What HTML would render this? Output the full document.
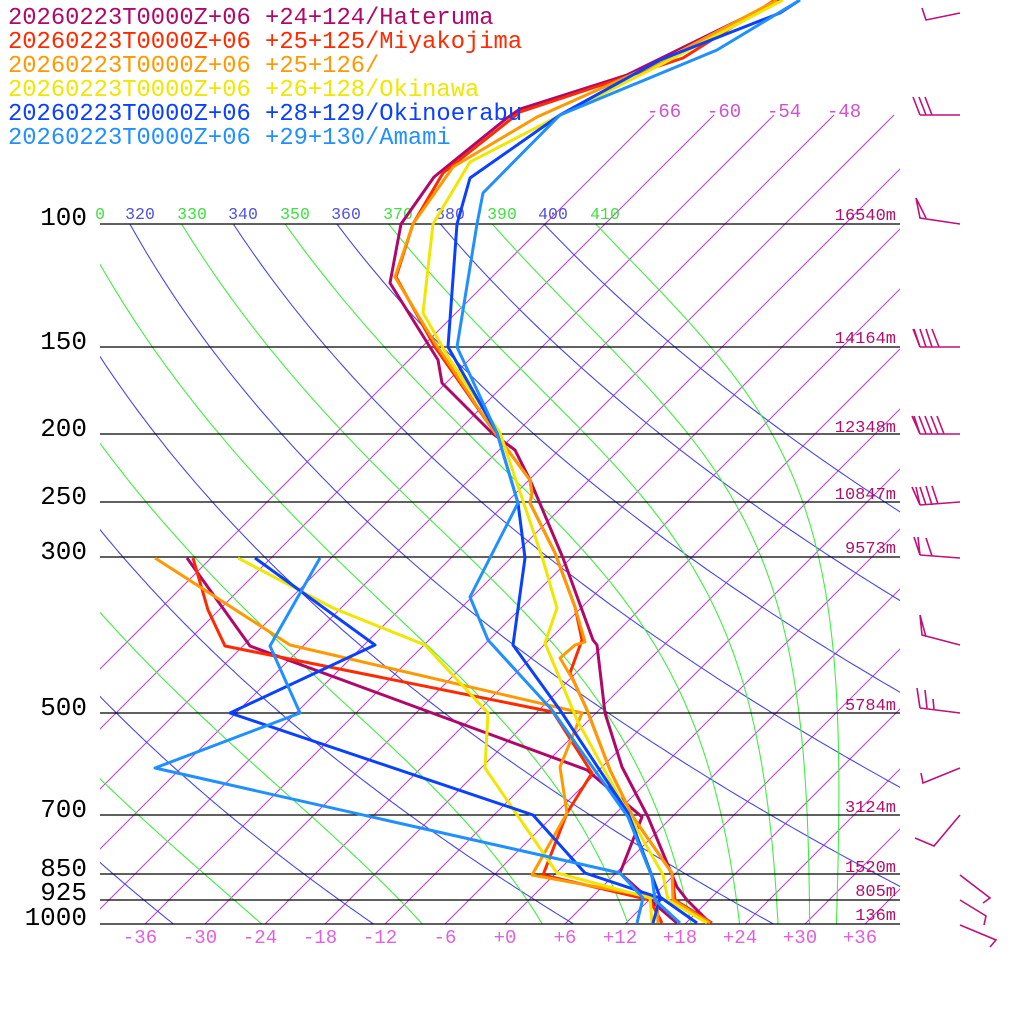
<!DOCTYPE html>
<html><head><meta charset="utf-8"><style>
html,body{margin:0;padding:0;background:#fff;}
svg{display:block;}
text{font-family:"Liberation Mono",monospace;}
</style></head><body>
<svg id="s" width="1024" height="1024" viewBox="0 0 1024 1024" xmlns="http://www.w3.org/2000/svg">
<defs><clipPath id="c"><rect x="100" y="0" width="800" height="924"/></clipPath></defs>
<g id="grid" clip-path="url(#c)"></g>
<g stroke="#000" stroke-width="1.3">
<line x1="100" y1="224" x2="900" y2="224"/><line x1="100" y1="347" x2="900" y2="347"/>
<line x1="100" y1="434" x2="900" y2="434"/><line x1="100" y1="502" x2="900" y2="502"/>
<line x1="100" y1="557" x2="900" y2="557"/><line x1="100" y1="713" x2="900" y2="713"/>
<line x1="100" y1="815" x2="900" y2="815"/><line x1="100" y1="874" x2="900" y2="874"/>
<line x1="100" y1="900" x2="900" y2="900"/><line x1="100" y1="924" x2="900" y2="924"/>
</g>
<g font-size="16.5" text-anchor="middle">
<text x="100" y="219" fill="#40e040" text-anchor="end" dx="5">0</text>
<text x="140" y="219" fill="#5050e0">320</text><text x="192" y="219" fill="#40e040">330</text>
<text x="243" y="219" fill="#5050e0">340</text><text x="295" y="219" fill="#40e040">350</text>
<text x="346" y="219" fill="#5050e0">360</text><text x="398" y="219" fill="#40e040">370</text>
<text x="450" y="219" fill="#5050e0">380</text><text x="502" y="219" fill="#40e040">390</text>
<text x="553" y="219" fill="#5050e0">400</text><text x="605" y="219" fill="#40e040">410</text>
</g>
<g font-size="19" fill="#d050d0">
<text x="647" y="117">-66</text><text x="707" y="117">-60</text><text x="767" y="117">-54</text><text x="827" y="117">-48</text>
</g>
<g font-size="19" fill="#e060e0" text-anchor="middle">
<text x="140" y="943">-36</text><text x="200" y="943">-30</text><text x="260" y="943">-24</text><text x="320" y="943">-18</text>
<text x="380" y="943">-12</text><text x="445" y="943">-6</text><text x="505" y="943">+0</text><text x="565" y="943">+6</text>
<text x="620" y="943">+12</text><text x="680" y="943">+18</text><text x="740" y="943">+24</text><text x="800" y="943">+30</text><text x="860" y="943">+36</text>
</g>
<g font-size="26" fill="#000" text-anchor="end">
<text x="87" y="225">100</text><text x="87" y="349">150</text><text x="87" y="436">200</text><text x="87" y="504">250</text>
<text x="87" y="559">300</text><text x="87" y="715">500</text><text x="87" y="817">700</text><text x="87" y="876">850</text>
<text x="87" y="900">925</text><text x="87" y="925">1000</text>
</g>
<g font-size="17" fill="#b0106a" text-anchor="end">
<text x="896" y="220">16540m</text><text x="896" y="343">14164m</text><text x="896" y="432">12348m</text>
<text x="896" y="499">10847m</text><text x="896" y="553">9573m</text><text x="896" y="710">5784m</text>
<text x="896" y="812">3124m</text><text x="896" y="872">1520m</text><text x="896" y="896">805m</text><text x="896" y="920">136m</text>
</g>
<g fill="none" stroke-width="3" stroke-linejoin="round">
<polyline stroke="#b0086a" points="780,0 627,75 520,109 507,118 434,177 401,224 390,283 438,360 442,383 492,433 515,450 530,480 563,558 593,640 597,645 605,713 622,767 648,817 677,887 687,900 710,923"/>
<polyline stroke="#b0086a" points="187,558 250,646 587,770 642,817 620,873 650,900 677,923"/>
<polyline stroke="#ff2a00" points="775,0 683,58 520,112 443,173 413,224 396,277 435,347 493,430 530,480 532,493 530,503 555,553 575,607 582,640 570,673 587,710 610,770 633,817 672,873 675,900 712,923"/>
<polyline stroke="#ff2a00" points="193,558 208,610 225,646 553,712 592,773 567,813 543,875 650,900 662,923"/>
<polyline stroke="#ff9900" points="777,0 660,62 537,117 453,167 413,224 395,277 433,340 493,430 530,480 532,493 530,503 555,553 575,607 585,642 575,645 560,658 573,680 587,710 610,770 633,817 672,873 673,900 710,923"/>
<polyline stroke="#ff9900" points="155,558 290,645 582,713 560,767 567,813 532,875 657,898 658,923"/>
<polyline stroke="#f0e600" points="783,0 660,65 557,117 470,162 433,224 423,313 450,360 500,433 543,560 557,608 545,643 577,720 628,813 663,875 668,900 707,923"/>
<polyline stroke="#f0e600" points="238,558 333,608 425,645 488,713 485,768 557,873 650,898 652,923"/>
<polyline stroke="#0a40ff" points="800,0 780,13 660,60 560,115 470,178 457,224 448,347 497,433 518,503 525,558 513,645 560,710 628,813 660,897 697,923"/>
<polyline stroke="#0a40ff" points="255,558 375,645 230,713 533,815 585,873 660,898 653,923"/>
<polyline stroke="#2090ff" points="800,0 717,50 560,115 483,193 477,224 457,347 497,433 518,503 470,597 488,640 552,710 628,817 652,877 655,900 680,923"/>
<polyline stroke="#2090ff" points="320,558 270,646 300,713 155,768 620,873 643,898 637,923"/>
</g>
<g stroke="#c0107a" stroke-width="1.6" fill="none">
<polyline points="922,8 926,20 960,13"/>
<line x1="920" y1="115" x2="960" y2="115"/><line x1="920" y1="115" x2="913" y2="97"/><line x1="926" y1="115" x2="919" y2="97"/><line x1="932" y1="115" x2="925" y2="97"/>
<polyline points="960,224 920,218 916,198 926,218"/>
<line x1="920" y1="347" x2="960" y2="347"/><line x1="920" y1="347" x2="913" y2="329"/><line x1="920" y1="347" x2="914" y2="329"/><line x1="926" y1="347" x2="920" y2="329"/><line x1="932" y1="347" x2="926" y2="329"/><line x1="939" y1="347" x2="932" y2="329"/>
<line x1="920" y1="434" x2="960" y2="434"/><line x1="920" y1="434" x2="912" y2="416"/><line x1="920" y1="434" x2="914" y2="416"/><line x1="926" y1="434" x2="919" y2="416"/><line x1="932" y1="434" x2="925" y2="416"/><line x1="938" y1="434" x2="931" y2="416"/><line x1="944" y1="434" x2="937" y2="416"/>
<line x1="920" y1="505" x2="960" y2="502"/><line x1="920" y1="505" x2="912" y2="487"/><line x1="920" y1="505" x2="916" y2="487"/><line x1="926" y1="505" x2="920" y2="487"/><line x1="932" y1="505" x2="926" y2="486"/><line x1="938" y1="504" x2="932" y2="486"/>
<line x1="920" y1="555" x2="960" y2="558"/><line x1="920" y1="555" x2="914" y2="537"/><line x1="920" y1="555" x2="918" y2="537"/><line x1="932" y1="556" x2="926" y2="538"/>
<polyline points="960,645 922,635 920,615 926,637"/>
<line x1="920" y1="708" x2="960" y2="713"/><line x1="920" y1="708" x2="917" y2="688"/><line x1="927" y1="708" x2="925" y2="690"/><line x1="934" y1="709" x2="933" y2="699"/>
<polyline points="960,768 923,783 921,773"/>
<polyline points="960,815 934,846 915,838"/>
<polyline points="960,875 990,898 983,903"/>
<polyline points="960,900 986,916 984,925"/>
<polyline points="960,925 996,940 990,947"/>
</g>
<g font-size="23.8">
<text x="8" y="24" fill="#b0086a">20260223T0000Z+06 +24+124/Hateruma</text>
<text x="8" y="48" fill="#ff2a00">20260223T0000Z+06 +25+125/Miyakojima</text>
<text x="8" y="72" fill="#ff9900">20260223T0000Z+06 +25+126/</text>
<text x="8" y="96" fill="#f0e600">20260223T0000Z+06 +26+128/Okinawa</text>
<text x="8" y="120" fill="#0a40ff">20260223T0000Z+06 +28+129/Okinoerabu</text>
<text x="8" y="144" fill="#2090ff">20260223T0000Z+06 +29+130/Amami</text>
</g>
</svg>
<script>
(function(){
var g=document.getElementById('grid'),NS='http://www.w3.org/2000/svg';
function yOf(p){return 924-304*Math.log(1000/p);}
function xOf(Tc,y){return 505+10*Tc+(924-y);}
function path(d,c,w){var e=document.createElementNS(NS,'path');e.setAttribute('d',d);e.setAttribute('stroke',c);e.setAttribute('stroke-width',w);e.setAttribute('fill','none');g.appendChild(e);}
for(var T=-66;T<=60;T+=6){var y1=924,y2=115;path('M'+xOf(T,y1)+' '+y1+'L'+xOf(T,y2)+' '+y2,'#c040d8',1.1);}
for(var th=160;th<=400;th+=20){var d='';for(var p=100;p<=1000.1;p+=5){var Tk=th*Math.pow(p/1000,0.286),y=yOf(p);d+=(d?'L':'M')+xOf(Tk-273.15,y).toFixed(1)+' '+y.toFixed(1);}path(d,'#4848e8',1.1);}
for(var te=170;te<=410;te+=20){var Tk=te*Math.pow(0.1,0.286),d='',p=100;while(p<=1000.1){var y=yOf(p);d+=(d?'L':'M')+xOf(Tk-273.15,y).toFixed(1)+' '+y.toFixed(1);
for(var k=0;k<5;k++){var Tc=Tk-273.15,es=6.112*Math.exp(17.67*Tc/(Tc+243.5)),rs=0.622*es/(p-es);if(rs<0)rs=0;var dT=(287*Tk+2.5e6*rs)/(p*(1004+2.5e6*2.5e6*rs*0.622/(287*Tk*Tk)));Tk+=dT*1;p+=1;}}
path(d,'#40ee40',1.1);}
})();
</script>
</body></html>
